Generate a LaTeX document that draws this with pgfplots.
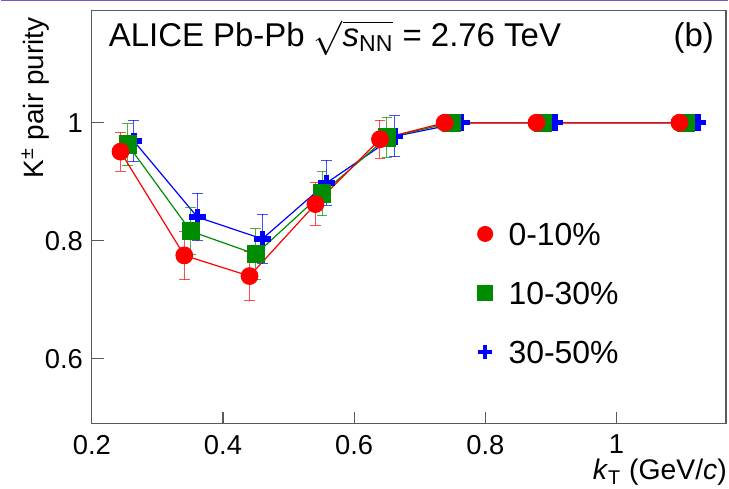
\documentclass[border=0pt]{standalone}
\usepackage{fontspec}
\setmainfont{Liberation Sans}
\usepackage{amsmath}
\usepackage{pgfplots}
\usepackage{pgfplotstable}
\pgfplotsset{compat=1.18}
\definecolor{rootred}{RGB}{255,0,0}
\definecolor{rootgreen}{RGB}{0,140,0}
\definecolor{rootblue}{RGB}{0,0,255}
\definecolor{framegray}{RGB}{90,90,90}
\definecolor{toppurple}{RGB}{125,85,205}

\pgfplotstableread{
x y e
0.2437 0.951 0.033
0.341 0.775 0.041
0.4405 0.740 0.042
0.541 0.862 0.036
0.6394 0.972 0.032
0.738 1.000 0
0.878 1.000 0
1.096 1.000 0
}\redtab
\pgfplotstableread{
x y e
0.2548 0.963 0.035
0.351 0.816 0.040
0.450 0.777 0.043
0.551 0.880 0.038
0.650 0.975 0.034
0.7485 1.000 0
0.888 1.000 0
1.106 1.000 0
}\greentab
\pgfplotstableread{
x y e
0.264 0.969 0.035
0.361 0.840 0.040
0.460 0.803 0.042
0.558 0.898 0.038
0.662 0.977 0.035
0.764 1.000 0
0.906 1.000 0
1.124 1.000 0
}\bluetab

\begin{document}
\begin{tikzpicture}
\begin{axis}[
  scale only axis, width=317.7pt, height=206.8pt,
  xmin=0.2, xmax=1.167, ymin=0.49, ymax=1.19,
  axis line style={framegray, line width=0.6pt},
  tick style={framegray, line width=0.6pt},
  tick align=inside, tick pos=left, major tick length=6pt,
  xtick={0.2,0.4,0.6,0.8,1}, ytick={0.6,0.8,1},
  minor tick num=0,
  /pgf/number format/assume math mode=true,
  ticklabel style={font=\fontsize{13.7}{16}\selectfont},
  xticklabel style={inner sep=0pt, yshift=-5.6pt},
  yticklabel style={inner sep=0pt, xshift=-4.3pt},
  reverse legend,
  legend cell align=left,
  legend style={at={(rel axis cs:0.6086,0.487)}, anchor=north west, draw=none, fill=none,
    inner sep=0pt, outer sep=0pt, font=\fontsize{16}{19}\selectfont,
    nodes={inner sep=0pt, text height=11.5pt, text depth=0pt},
    row sep=18pt, column sep=8pt},
  clip=false,
  every axis plot/.append style={line width=0.6pt},
  error bars/y dir=both, error bars/y explicit,
  error bars/error bar style={line width=0.5pt, opacity=0.7},
  error bars/error mark options={rotate=90, mark size=2.7pt, line width=0.5pt, opacity=0.7},
]
\addplot[rootblue, mark=+, mark size=4.15pt, mark options={line width=2.75pt},
  legend image code/.code={\draw[rootblue, mark=+, mark size=3.6pt, mark options={line width=2.2pt}] plot[only marks] coordinates {(0pt,0pt)};}]
  table[x=x, y=y, y error=e] {\bluetab};
\addlegendentry{30-50\%}
\addplot[rootgreen, mark=square*, mark size=4.25pt, mark options={draw=none, fill=rootgreen},
  legend image code/.code={\draw[rootgreen, mark=square*, mark size=3.7pt, mark options={draw=none, fill=rootgreen}] plot[only marks] coordinates {(0pt,0pt)};}]
  table[x=x, y=y, y error=e] {\greentab};
\addlegendentry{10-30\%}
\addplot[rootred, mark=*, mark size=4.15pt, mark options={draw=none, fill=rootred},
  legend image code/.code={\draw[rootred, mark=*, mark size=3.7pt, mark options={draw=none, fill=rootred}] plot[only marks] coordinates {(0pt,0pt)};}]
  table[x=x, y=y, y error=e] {\redtab};
\addlegendentry{0-10\%}

\coordinate (ll) at (rel axis cs:0,0);
\node[xshift=8.35pt, yshift=-18pt, anchor=base west, inner sep=0pt, font=\fontsize{16.5}{20}\selectfont]
  at (rel axis cs:0,1) {ALICE Pb-Pb $\sqrt{\text{\itshape s}_{\text{NN}}}$ = 2.76 TeV};
\node[xshift=-5.85pt, yshift=-18pt, anchor=base east, inner sep=0pt, font=\fontsize{16.5}{20}\selectfont]
  at (rel axis cs:1,1) {(b)};
\node[xshift=0.6pt, yshift=-28.3pt, anchor=base east, inner sep=0pt, font=\fontsize{14.2}{17}\selectfont]
  at (rel axis cs:1,0) {\textit{k}\textsubscript{T} (GeV/\textit{c})};
\node[xshift=-24.15pt, yshift=-3.2pt, rotate=90, anchor=base east, inner sep=0pt, font=\fontsize{14}{17}\selectfont]
  at (rel axis cs:0,1) {K\textsuperscript{±} pair purity};
\end{axis}
\pgfresetboundingbox
\path (ll) ++(-45.65pt,-32.35pt) rectangle ++(364.5pt,244.5pt);
\draw[toppurple, line width=0.7pt] (ll) ++(-45.65pt,211.8pt) -- ++(364.5pt,0pt);
\end{tikzpicture}
\end{document}
